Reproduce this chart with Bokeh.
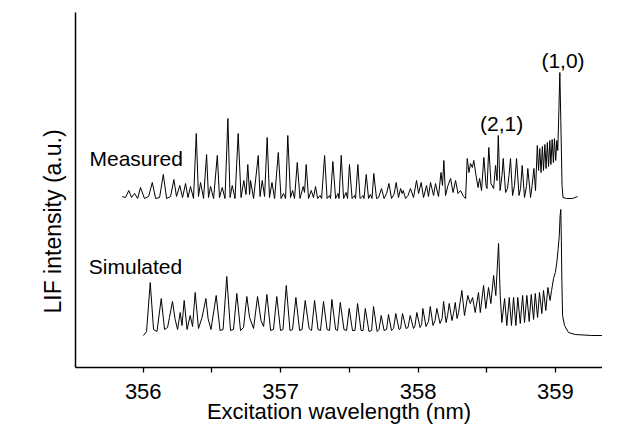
from bokeh.plotting import figure
from bokeh.models import Range1d, FixedTicker, Label, Title
from bokeh.embed import file_html
from bokeh.resources import INLINE

# ---- data (wavelength in nm, intensity in a.u.) ----
measured_wl = [
    355.847, 355.871, 355.895, 355.915, 355.937, 355.959, 355.980, 356.009, 356.039, 356.066,
    356.090, 356.119, 356.146, 356.170, 356.199, 356.223, 356.242, 356.266, 356.286, 356.308,
    356.326, 356.344, 356.366, 356.386, 356.402, 356.417, 356.439, 356.461, 356.475, 356.490,
    356.512, 356.539, 356.555, 356.575, 356.595, 356.616, 356.632, 356.648, 356.668, 356.691,
    356.712, 356.732, 356.748, 356.761, 356.774, 356.781, 356.803, 356.837, 356.850, 356.866,
    356.883, 356.902, 356.919, 356.937, 356.956, 356.983, 357.003, 357.021, 357.036, 357.052,
    357.072, 357.087, 357.101, 357.121, 357.141, 357.164, 357.174, 357.186, 357.203, 357.223,
    357.239, 357.254, 357.269, 357.287, 357.298, 357.320, 357.338, 357.356, 357.363, 357.380,
    357.400, 357.418, 357.425, 357.441, 357.458, 357.476, 357.487, 357.501, 357.520, 357.538,
    357.545, 357.562, 357.578, 357.600, 357.607, 357.623, 357.640, 357.653, 357.665, 357.678,
    357.698, 357.713, 357.734, 357.753, 357.771, 357.788, 357.807, 357.825, 357.841, 357.858,
    357.873, 357.884, 357.892, 357.909, 357.927, 357.945, 357.967, 357.989, 358.004, 358.023,
    358.040, 358.062, 358.076, 358.091, 358.113, 358.127, 358.149, 358.167, 358.178, 358.188,
    358.200, 358.218, 358.237, 358.255, 358.273, 358.291, 358.309, 358.331, 358.346, 358.358,
    358.371, 358.382, 358.395, 358.406, 358.422, 358.437, 358.448, 358.462, 358.479, 358.495,
    358.502, 358.515, 358.531, 358.550, 358.564, 358.575, 358.584, 358.597, 358.611, 358.620,
    358.637, 358.651, 358.662, 358.673, 358.688, 358.702, 358.717, 358.735, 358.746, 358.758,
    358.775, 358.790, 358.799, 358.819, 358.830, 358.843, 358.855, 358.868, 358.877, 358.886,
    358.895, 358.905, 358.913, 358.923, 358.932, 358.941, 358.950, 358.959, 358.967, 358.976,
    358.985, 358.993, 359.002, 359.010, 359.017, 359.025, 359.032, 359.039, 359.048, 359.055,
    359.081, 359.124, 359.161,
]
measured_int = [
    1.71, 1.70, 1.77, 1.70, 1.74, 1.69, 1.80, 1.69, 1.71, 1.85,
    1.69, 1.70, 1.93, 1.69, 1.71, 1.88, 1.71, 1.82, 1.70, 1.84,
    1.70, 1.81, 1.69, 2.34, 1.71, 1.85, 1.69, 2.13, 1.70, 1.81,
    1.69, 2.12, 1.70, 1.80, 1.69, 2.49, 1.70, 1.82, 1.69, 2.34,
    1.70, 1.87, 1.73, 2.03, 1.73, 1.87, 1.69, 2.12, 1.71, 1.87,
    1.71, 2.30, 1.70, 1.85, 1.69, 2.15, 1.69, 1.74, 1.69, 2.32,
    1.70, 1.77, 1.69, 2.05, 1.69, 1.81, 1.75, 2.03, 1.69, 1.77,
    1.70, 1.81, 1.69, 1.72, 1.69, 2.12, 1.69, 1.72, 1.69, 2.06,
    1.69, 1.74, 1.69, 2.12, 1.69, 1.75, 1.69, 2.03, 1.69, 1.72,
    1.69, 2.03, 1.69, 1.72, 1.69, 1.93, 1.69, 1.73, 1.69, 1.94,
    1.69, 1.70, 1.79, 1.69, 1.74, 1.84, 1.69, 1.73, 1.85, 1.70,
    1.79, 1.74, 1.77, 1.69, 1.72, 1.79, 1.70, 1.87, 1.74, 1.85,
    1.70, 1.82, 1.71, 1.85, 1.72, 1.84, 1.71, 1.95, 1.82, 2.07,
    1.72, 1.82, 1.89, 1.75, 1.87, 1.74, 1.77, 1.71, 1.69, 2.09,
    1.95, 2.04, 2.00, 2.07, 1.92, 1.80, 1.89, 1.77, 2.10, 1.82,
    1.79, 2.20, 1.84, 1.79, 2.02, 1.87, 2.32, 1.77, 1.92, 2.09,
    1.75, 1.79, 1.92, 2.09, 1.72, 1.82, 2.09, 1.72, 1.79, 2.02,
    1.70, 1.82, 1.99, 1.70, 1.82, 1.99, 1.77, 2.22, 1.97, 2.19,
    1.95, 2.21, 1.97, 2.23, 1.99, 2.25, 2.01, 2.27, 2.03, 2.28,
    2.05, 2.29, 2.07, 2.27, 2.17, 2.57, 2.95, 2.47, 1.82, 1.70,
    1.69, 1.69, 1.71,
]

simulated_wl = [
    356.002, 356.024, 356.051, 356.075, 356.100, 356.131, 356.155, 356.177, 356.191, 356.213,
    356.231, 356.250, 356.269, 356.282, 356.298, 356.319, 356.342, 356.359, 356.378, 356.402,
    356.428, 356.456, 356.472, 356.493, 356.531, 356.559, 356.581, 356.608, 356.635, 356.657,
    356.681, 356.708, 356.730, 356.754, 356.774, 356.803, 356.832, 356.857, 356.876, 356.900,
    356.927, 356.948, 356.972, 356.999, 357.017, 357.041, 357.068, 357.087, 357.111, 357.138,
    357.156, 357.179, 357.207, 357.225, 357.247, 357.272, 357.290, 357.312, 357.338, 357.356,
    357.373, 357.400, 357.414, 357.434, 357.461, 357.480, 357.499, 357.523, 357.541, 357.560,
    357.585, 357.600, 357.616, 357.643, 357.662, 357.676, 357.702, 357.716, 357.732, 357.753,
    357.771, 357.785, 357.807, 357.822, 357.838, 357.862, 357.873, 357.887, 357.913, 357.927,
    357.943, 357.967, 357.978, 357.991, 358.015, 358.026, 358.035, 358.058, 358.076, 358.089,
    358.109, 358.124, 358.137, 358.160, 358.175, 358.186, 358.204, 358.215, 358.227, 358.247,
    358.258, 358.271, 358.284, 358.295, 358.319, 358.338, 358.362, 358.380, 358.397, 358.416,
    358.440, 358.453, 358.477, 358.493, 358.513, 358.530, 358.550, 358.566, 358.586, 358.598,
    358.610, 358.630, 358.646, 358.664, 358.680, 358.695, 358.712, 358.726, 358.744, 358.761,
    358.775, 358.792, 358.809, 358.824, 358.841, 358.853, 358.870, 358.884, 358.901, 358.913,
    358.930, 358.945, 358.961, 358.972, 358.986, 358.999, 359.010, 359.020, 359.028, 359.034,
    359.039, 359.043, 359.047, 359.052, 359.066, 359.095, 359.144, 359.265, 359.444,
]
simulated_int = [
    0.32, 0.36, 0.85, 0.38, 0.36, 0.69, 0.38, 0.40, 0.50, 0.66,
    0.49, 0.38, 0.55, 0.42, 0.67, 0.38, 0.52, 0.41, 0.75, 0.39,
    0.50, 0.69, 0.49, 0.38, 0.72, 0.37, 0.38, 0.91, 0.37, 0.38,
    0.74, 0.37, 0.40, 0.71, 0.50, 0.39, 0.71, 0.47, 0.41, 0.73,
    0.37, 0.38, 0.71, 0.37, 0.38, 0.82, 0.37, 0.38, 0.70, 0.37,
    0.38, 0.67, 0.39, 0.37, 0.67, 0.38, 0.37, 0.66, 0.38, 0.37,
    0.68, 0.38, 0.37, 0.65, 0.38, 0.37, 0.59, 0.37, 0.37, 0.64,
    0.37, 0.37, 0.59, 0.36, 0.37, 0.61, 0.36, 0.38, 0.52, 0.37,
    0.38, 0.53, 0.37, 0.39, 0.54, 0.38, 0.39, 0.54, 0.39, 0.40,
    0.52, 0.39, 0.42, 0.55, 0.40, 0.43, 0.59, 0.41, 0.46, 0.61,
    0.42, 0.47, 0.59, 0.44, 0.49, 0.66, 0.45, 0.52, 0.64, 0.47,
    0.54, 0.65, 0.49, 0.55, 0.77, 0.52, 0.72, 0.64, 0.70, 0.55,
    0.75, 0.55, 0.82, 0.59, 0.80, 0.64, 0.92, 0.72, 1.24, 0.72,
    0.45, 0.69, 0.42, 0.70, 0.42, 0.70, 0.42, 0.70, 0.44, 0.72,
    0.45, 0.72, 0.46, 0.73, 0.48, 0.74, 0.50, 0.75, 0.54, 0.77,
    0.57, 0.80, 0.67, 0.77, 0.89, 0.95, 1.05, 1.19, 1.32, 1.52,
    1.58, 1.27, 0.85, 0.52, 0.42, 0.35, 0.33, 0.32, 0.32,
]

x_ticks = [356, 357, 358, 359]
x_minor_ticks = [355.5, 356.5, 357.5, 358.5]

annot_text = ["Measured", "Simulated", "(2,1)", "(1,0)"]
annot_x = [355.609, 355.604, 358.608, 359.055]
annot_y = [2.09, 1.01, 2.44, 3.075]
annot_align = ["left", "left", "center", "center"]

FONT = "Liberation Sans"
X0, X1 = 355.507, 359.3425

p = figure(width=602, height=427, output_backend="svg", toolbar_location=None,
           x_range=Range1d(X0, X1), y_range=Range1d(0, 3.55),
           min_border_left=75, min_border_right=0, min_border_top=12, min_border_bottom=60)
p.outline_line_color = None
p.xgrid.visible = False
p.ygrid.visible = False
p.background_fill_color = "white"
p.border_fill_color = "white"

p.line(measured_wl, measured_int, line_color="black", line_width=1.0)
p.line(simulated_wl, simulated_int, line_color="black", line_width=1.0)

xa = p.xaxis[0]
xa.ticker = FixedTicker(ticks=x_ticks, minor_ticks=x_minor_ticks)
xa.axis_line_width = 1.5
xa.axis_line_color = "black"
xa.major_tick_in = 0
xa.major_tick_out = 5
xa.minor_tick_in = 0
xa.minor_tick_out = 5
xa.major_tick_line_width = 1.3
xa.minor_tick_line_width = 1.3
xa.major_label_text_font = FONT
xa.major_label_text_font_size = "22px"
xa.major_label_text_color = "black"
xa.major_label_standoff = 11
xa.axis_label = "Excitation wavelength (nm)"
xa.axis_label_text_font = FONT
xa.axis_label_text_font_size = "22px"
xa.axis_label_text_font_style = "normal"
xa.axis_label_text_color = "black"
xa.axis_label_standoff = -3

ya = p.yaxis[0]
ya.ticker = FixedTicker(ticks=[])
ya.axis_line_width = 1.5
ya.axis_line_color = "black"
ya.major_tick_line_color = None
ya.minor_tick_line_color = None
ya.major_label_text_font_size = "0px"

# vertical axis title, shifted below the frame centre as in the original
p.add_layout(Title(text="LIF intensity (a.u.)", align="left", offset=54, standoff=20,
                   text_font=FONT, text_font_size="23px", text_font_style="normal",
                   text_color="black"), "left")

for t, x, y, a in zip(annot_text, annot_x, annot_y, annot_align):
    p.add_layout(Label(x=x, y=y, text=t, text_font=FONT, text_font_size="21px",
                       text_align=a, text_baseline="alphabetic", text_color="black"))

open("out.html", "w").write(file_html(p, INLINE))
